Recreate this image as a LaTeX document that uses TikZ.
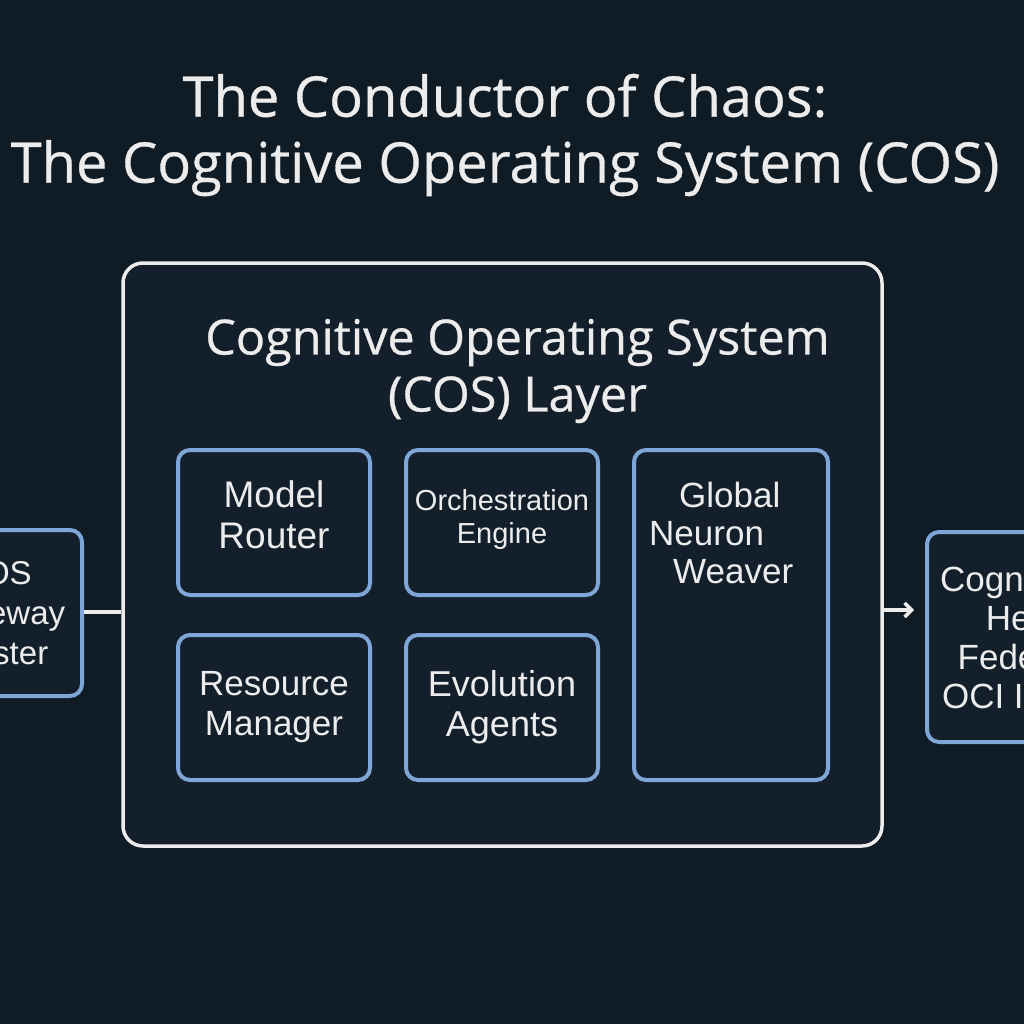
\documentclass[tikz,border=0pt]{standalone}
\usepackage{fontspec}
\setmainfont{Liberation Sans}
\newfontfamily\titlefont[FakeBold=0.6]{Open Sans}
\usetikzlibrary{arrows.meta}
\definecolor{bgcol}{RGB}{15,27,37}
\definecolor{boxfill}{RGB}{19,32,44}
\definecolor{edgeblue}{RGB}{126,166,214}
\definecolor{offwhite}{RGB}{236,236,236}
\tikzset{
  outerbox/.style={draw=offwhite, line width=3.5pt, rounded corners=20pt, fill=boxfill},
  subbox/.style={draw=edgeblue, line width=4pt, rounded corners=12pt, fill=boxfill,
    minimum width=192pt, minimum height=145pt, text=offwhite, align=center, inner sep=0pt},
  sidebox/.style={draw=edgeblue, line width=4pt, rounded corners=12pt, fill=boxfill,
    text=offwhite, align=center, inner sep=0pt},
  conn/.style={draw=offwhite, line width=3.5pt},
  lbl/.style={text=offwhite, align=center, inner sep=0pt},
}
\newcommand{\padr}{\hspace*{8pt}}
\begin{document}
\begin{tikzpicture}[x=1pt,y=-1pt]
\fill[bgcol] (0,0) rectangle (1024,1024);
\useasboundingbox (0,0) rectangle (1024,1024);
% titles
\node[lbl, font=\titlefont\fontsize{56}{66}\selectfont] (title) at (505,135)
  {The Conductor of Chaos:\\The Cognitive Operating System (COS)};
% main layer
\node[outerbox, minimum width=759pt, minimum height=583pt] (cos) at (502.5,554.5) {};
\node[lbl, font=\titlefont\fontsize{48.5}{57}\selectfont] (cosh) at (517.5,371)
  {Cognitive Operating System\\(COS) Layer};
% sub boxes
\node[subbox, font=\fontsize{37}{41}\selectfont] (mr) at (274,522.5) {\\[-30pt]Model\\Router};
\node[subbox, font=\fontsize{29}{33}\selectfont] (oe) at (502,522.5) {\\[-17pt]Orchestration\\Engine};
\node[subbox, font=\fontsize{35}{40}\selectfont] (rm) at (274,707.5) {Resource\\Manager};
\node[subbox, font=\fontsize{36}{40}\selectfont] (ea) at (502,707.5) {Evolution\\Agents};
\node[subbox, minimum width=194pt, minimum height=330pt] (gnw) at (731,615) {};
\node[lbl, align=left, anchor=north west, font=\fontsize{35}{38}\selectfont] (gnwt) at (649,482)
  {\hspace{30pt}Global\\Neuron\\\hspace{24pt}Weaver};
% side boxes
\node[sidebox, minimum width=164pt, minimum height=166pt, font=\fontsize{33}{40}\selectfont] (gw) at (0,613)
  {COS\padr\\Gateway\padr\\Cluster\padr};
\node[sidebox, minimum width=180pt, minimum height=210pt, font=\fontsize{35}{39}\selectfont] (fed) at (1017,637)
  {Cognitive\padr\\Hex\padr\\Federal\padr\\OCI Infra\padr};
% connectors
\draw[conn] (gw.east |- 0,612) -- (cos.west |- 0,612);
\draw[conn, -{Straight Barb[length=7pt,width=14pt]}, shorten >=11pt] (cos.east |- 0,610) -- (fed.west |- 0,610);
\end{tikzpicture}
\end{document}
